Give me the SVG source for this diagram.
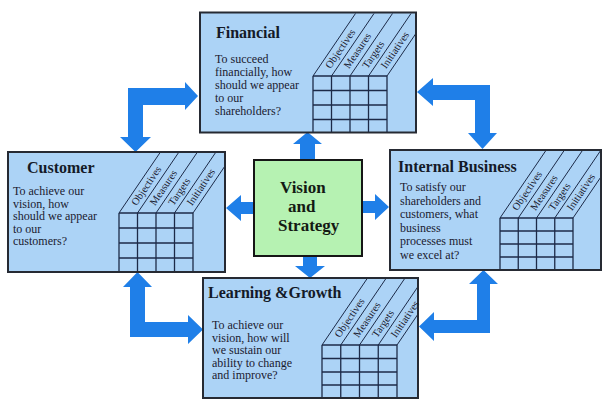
<svg xmlns="http://www.w3.org/2000/svg" width="603" height="403" viewBox="0 0 603 403">
  <style>
    .card { fill: #acd3f6; stroke: #262a33; stroke-width: 2; }
    .core { fill: #b6f2b2; stroke: #161616; stroke-width: 2; }
    .grid { stroke: #1c2a48; stroke-width: 1.3; fill: none; }
    .slant { stroke: #1c2a48; stroke-width: 1; fill: none; }
    .title { font-family: "Liberation Serif", "Times New Roman", serif; font-weight: bold; font-size: 16px; fill: #141a28; }
    .body { font-family: "Liberation Serif", "Times New Roman", serif; font-size: 12px; fill: #1a2030; }
    .head { font-family: "Liberation Serif", "Times New Roman", serif; font-size: 10.5px; fill: #1a2030; }
    .center { font-family: "Liberation Serif", "Times New Roman", serif; font-weight: bold; font-size: 17px; fill: #141a14; }
    .flow { fill: #1f7fe8; }
  </style>
  <defs>
    <clipPath id="clipFin"><rect x="201" y="13.5" width="214" height="118"/></clipPath>
    <clipPath id="clipCus"><rect x="9" y="153" width="215" height="118"/></clipPath>
    <clipPath id="clipInt"><rect x="391" y="151" width="209" height="118"/></clipPath>
    <clipPath id="clipLrn"><rect x="204" y="279" width="213" height="118"/></clipPath>
  </defs>

  <rect x="0" y="0" width="603" height="403" fill="#ffffff"/>

  <!-- connectors -->
  <g id="connectors">
    <!-- elbow arrows between perspectives -->
    <polygon class="flow" points="198,96 185,82 185,88 128,88 128,137 120,137 135.5,152 151,137 143,137 143,105 185,105 185,110"/>
    <polygon class="flow" points="417,92 433,78 433,85 490,85 490,133 497,133 482.5,149 468,133 475,133 475,100 433,100 433,106"/>
    <polygon class="flow" points="137.5,272 152,287 145,287 145,322 188,322 188,315 203,329.5 188,344 188,337 130,337 130,287 123,287"/>
    <polygon class="flow" points="483.5,270 498,284 490,284 490,333 434,333 434,341 419,326.5 434,312 434,320 477,320 477,284 469,284"/>
    <!-- arrows out of the centre -->
    <polygon class="flow" points="307.5,132 322,144 315,144 315,160 300,160 300,144 293,144"/>
    <polygon class="flow" points="303,256 317,256 317,266 325,266 310,278 295,266 303,266"/>
    <polygon class="flow" points="254,202 241,202 241,195 226,208 241,221 241,214 254,214"/>
    <polygon class="flow" points="362,201 375,201 375,194 389,207 375,220 375,213 362,213"/>
  </g>

  <!-- Financial -->
  <g id="financial">
    <rect class="card" x="200" y="12.5" width="216" height="120"/>
    <g clip-path="url(#clipFin)" class="slant">
      <line x1="313" y1="76" x2="367.4" y2="-4"/>
      <line x1="331.5" y1="76" x2="385.9" y2="-4"/>
      <line x1="350" y1="76" x2="404.4" y2="-4"/>
      <line x1="368.5" y1="76" x2="422.9" y2="-4"/>
      <line x1="387" y1="76" x2="441.4" y2="-4"/>
    </g>
    <g class="grid">
      <line x1="313" y1="76" x2="387" y2="76"/>
      <line x1="313" y1="90.5" x2="387" y2="90.5"/>
      <line x1="313" y1="105" x2="387" y2="105"/>
      <line x1="313" y1="119.5" x2="387" y2="119.5"/>
      <line x1="313" y1="76" x2="313" y2="132"/>
      <line x1="331.5" y1="76" x2="331.5" y2="132"/>
      <line x1="350" y1="76" x2="350" y2="132"/>
      <line x1="368.5" y1="76" x2="368.5" y2="132"/>
      <line x1="387" y1="76" x2="387" y2="132"/>
    </g>
    <text class="head" transform="rotate(-56 330.6 69.3)" x="330.6" y="69.3">Objectives</text>
    <text class="head" transform="rotate(-56 349.1 69.3)" x="349.1" y="69.3">Measures</text>
    <text class="head" transform="rotate(-56 367.6 69.3)" x="367.6" y="69.3">Targets</text>
    <text class="head" transform="rotate(-56 386.1 69.3)" x="386.1" y="69.3">Initiatives</text>
    <text class="title" x="216" y="38">Financial</text>
    <text class="body" x="215" y="63">To succeed</text>
    <text class="body" x="215" y="76">financially, how</text>
    <text class="body" x="215" y="89">should we appear</text>
    <text class="body" x="215" y="102">to our</text>
    <text class="body" x="215" y="115">shareholders?</text>
  </g>

  <!-- Customer -->
  <g id="customer">
    <rect class="card" x="8" y="152" width="217" height="120"/>
    <g clip-path="url(#clipCus)" class="slant">
      <line x1="119" y1="213" x2="173.4" y2="133"/>
      <line x1="137.5" y1="213" x2="191.9" y2="133"/>
      <line x1="156" y1="213" x2="210.4" y2="133"/>
      <line x1="174.5" y1="213" x2="228.9" y2="133"/>
      <line x1="193" y1="213" x2="247.4" y2="133"/>
    </g>
    <g class="grid">
      <line x1="119" y1="213" x2="193" y2="213"/>
      <line x1="119" y1="228" x2="193" y2="228"/>
      <line x1="119" y1="243" x2="193" y2="243"/>
      <line x1="119" y1="258" x2="193" y2="258"/>
      <line x1="119" y1="213" x2="119" y2="271"/>
      <line x1="137.5" y1="213" x2="137.5" y2="271"/>
      <line x1="156" y1="213" x2="156" y2="271"/>
      <line x1="174.5" y1="213" x2="174.5" y2="271"/>
      <line x1="193" y1="213" x2="193" y2="271"/>
    </g>
    <text class="head" transform="rotate(-56 136.6 206.3)" x="136.6" y="206.3">Objectives</text>
    <text class="head" transform="rotate(-56 155.1 206.3)" x="155.1" y="206.3">Measures</text>
    <text class="head" transform="rotate(-56 173.6 206.3)" x="173.6" y="206.3">Targets</text>
    <text class="head" transform="rotate(-56 192.1 206.3)" x="192.1" y="206.3">Initiatives</text>
    <text class="title" x="27" y="173">Customer</text>
    <text class="body" x="13" y="195" font-size="13">To achieve our</text>
    <text class="body" x="13" y="207.5" font-size="13">vision, how</text>
    <text class="body" x="13" y="220" font-size="13">should we appear</text>
    <text class="body" x="13" y="232.5" font-size="13">to our</text>
    <text class="body" x="13" y="245" font-size="13">customers?</text>
  </g>

  <!-- Internal Business -->
  <g id="internal-business">
    <rect class="card" x="390" y="150" width="211" height="120"/>
    <g clip-path="url(#clipInt)" class="slant">
      <line x1="500" y1="218" x2="554.4" y2="138"/>
      <line x1="518.25" y1="218" x2="572.65" y2="138"/>
      <line x1="536.5" y1="218" x2="590.9" y2="138"/>
      <line x1="554.75" y1="218" x2="609.15" y2="138"/>
      <line x1="573" y1="218" x2="627.4" y2="138"/>
    </g>
    <g class="grid">
      <line x1="500" y1="218" x2="573" y2="218"/>
      <line x1="500" y1="231" x2="573" y2="231"/>
      <line x1="500" y1="244" x2="573" y2="244"/>
      <line x1="500" y1="257" x2="573" y2="257"/>
      <line x1="500" y1="218" x2="500" y2="269"/>
      <line x1="518.25" y1="218" x2="518.25" y2="269"/>
      <line x1="536.5" y1="218" x2="536.5" y2="269"/>
      <line x1="554.75" y1="218" x2="554.75" y2="269"/>
      <line x1="573" y1="218" x2="573" y2="269"/>
    </g>
    <text class="head" transform="rotate(-56 517.35 211.3)" x="517.35" y="211.3">Objectives</text>
    <text class="head" transform="rotate(-56 535.6 211.3)" x="535.6" y="211.3">Measures</text>
    <text class="head" transform="rotate(-56 553.85 211.3)" x="553.85" y="211.3">Targets</text>
    <text class="head" transform="rotate(-56 572.1 211.3)" x="572.1" y="211.3">Initiatives</text>
    <text class="title" x="398" y="172">Internal Business</text>
    <text class="body" x="400" y="191">To satisfy our</text>
    <text class="body" x="400" y="204.5">shareholders and</text>
    <text class="body" x="400" y="218">customers, what</text>
    <text class="body" x="400" y="231.5">business</text>
    <text class="body" x="400" y="245">processes must</text>
    <text class="body" x="400" y="258.5">we excel at?</text>
  </g>

  <!-- Learning & Growth -->
  <g id="learning-growth">
    <rect class="card" x="203" y="278" width="215" height="120"/>
    <g clip-path="url(#clipLrn)" class="slant">
      <line x1="322" y1="345" x2="376.4" y2="265"/>
      <line x1="340.75" y1="345" x2="395.15" y2="265"/>
      <line x1="359.5" y1="345" x2="413.9" y2="265"/>
      <line x1="378.25" y1="345" x2="432.65" y2="265"/>
      <line x1="397" y1="345" x2="451.4" y2="265"/>
    </g>
    <g class="grid">
      <line x1="322" y1="345" x2="397" y2="345"/>
      <line x1="322" y1="358.5" x2="397" y2="358.5"/>
      <line x1="322" y1="372" x2="397" y2="372"/>
      <line x1="322" y1="385" x2="397" y2="385"/>
      <line x1="322" y1="345" x2="322" y2="397"/>
      <line x1="340.75" y1="345" x2="340.75" y2="397"/>
      <line x1="359.5" y1="345" x2="359.5" y2="397"/>
      <line x1="378.25" y1="345" x2="378.25" y2="397"/>
      <line x1="397" y1="345" x2="397" y2="397"/>
    </g>
    <text class="head" transform="rotate(-56 339.85 338.3)" x="339.85" y="338.3">Objectives</text>
    <text class="head" transform="rotate(-56 358.6 338.3)" x="358.6" y="338.3">Measures</text>
    <text class="head" transform="rotate(-56 377.35 338.3)" x="377.35" y="338.3">Targets</text>
    <text class="head" transform="rotate(-56 396.1 338.3)" x="396.1" y="338.3">Initiatives</text>
    <text class="title" x="208" y="298" font-size="16.5">Learning &amp;Growth</text>
    <text class="body" x="212" y="329">To achieve our</text>
    <text class="body" x="212" y="341.5">vision, how will</text>
    <text class="body" x="212" y="354">we sustain our</text>
    <text class="body" x="212" y="366.5">ability to change</text>
    <text class="body" x="212" y="379">and improve?</text>
  </g>

  <!-- Vision and Strategy -->
  <g id="vision-strategy">
    <rect class="core" x="254" y="160" width="108" height="96"/>
    <text class="center" x="280" y="193">Vision</text>
    <text class="center" x="288" y="212">and</text>
    <text class="center" x="278" y="231">Strategy</text>
  </g>
</svg>
